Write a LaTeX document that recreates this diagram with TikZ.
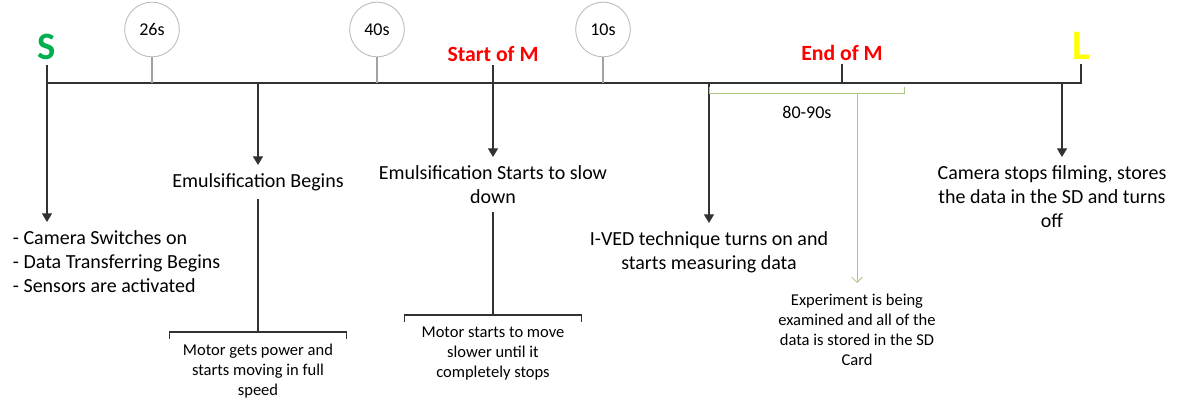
\documentclass[tikz,border=0pt]{standalone}
\usepackage{fontspec}
\setmainfont{Carlito}
\usetikzlibrary{arrows.meta, positioning, calc}
\definecolor{startgreen}{RGB}{0,176,80}
\definecolor{markred}{RGB}{255,0,0}
\definecolor{endyellow}{RGB}{255,255,0}
\definecolor{ringgray}{RGB}{190,190,190}
\definecolor{spangreen}{RGB}{169,199,125}
\definecolor{linegray}{RGB}{50,50,50}

\begin{document}
\begin{tikzpicture}[x=0.75pt, y=-0.75pt,
  axis/.style={linegray, line width=0.9pt},
  down/.style={axis, -{Triangle[length=6.5pt,width=7.5pt]}},
  ring/.style={circle, draw=ringgray, line width=0.7pt, minimum size=41pt, inner sep=0pt, font=\fontsize{13.5}{16}\selectfont},
  stem/.style={ringgray!85!black, line width=0.9pt},
  span/.style={spangreen, line width=0.6pt},
  event/.style={align=center, inner xsep=2pt, inner ysep=6pt, font=\fontsize{15}{18}\selectfont},
  detail/.style={align=center, inner xsep=2pt, inner ysep=9pt, minimum width=132pt, font=\fontsize{12.4}{15}\selectfont},
  milestone/.style={anchor=base, inner sep=2pt, text=markred, font=\bfseries\fontsize{16.3}{18}\selectfont}]
  \useasboundingbox (0,0) rectangle (1186,409);

  % ends of the time line
  \node[anchor=base, inner sep=3pt, text=startgreen, font=\bfseries\fontsize{29}{30}\selectfont] (S) at (47,60) {S};
  \node[anchor=base, inner sep=3pt, text=endyellow, font=\bfseries\fontsize{31.5}{32}\selectfont] (L) at (1081,60) {L};
  \coordinate (t0) at (47,83);
  \coordinate (tL) at (1081,83);
  \coordinate (te) at (258,83);
  \coordinate (ti) at (709,83);
  \coordinate (tend) at (842,83);
  \coordinate (tc) at (1062,83);
  \draw[axis] (t0) -- (tL) -- (L);

  % durations
  \foreach \x/\lab in {152/26s, 377/40s, 603/10s} {
    \node[ring] (c\lab) at (\x,29.5) {\lab};
    \draw[stem] (c\lab) -- (c\lab |- t0);
  }

  % milestones
  \node[milestone] (SM) at (493,62) {Start of M};
  \node[milestone] (EM) at (842,61) {End of M};
  \draw[axis] (EM) -- (tend);

  % events below the line
  \node[event, align=left, anchor=north west] (camon) at (10,222) {- Camera Switches on\\- Data Transferring Begins\\- Sensors are activated};
  \draw[down] (S) -- (S |- camon.north);

  \node[event, anchor=north] (eb) at (258,165) {Emulsification Begins};
  \draw[down] (te) -- (eb);
  \node[detail, anchor=north] (mp) at (258,332) {Motor gets power and\\starts moving in full\\speed};
  \draw[axis] (eb) -- (mp);
  \draw[axis] ([yshift=-5pt]mp.north west) -- (mp.north west) -- (mp.north east) -- ([yshift=-5pt]mp.north east);

  \node[event, anchor=north] (ess) at (493,157) {Emulsification Starts to slow\\down};
  \draw[down] (SM) -- (ess);
  \node[detail, anchor=north] (ms) at (493,315) {Motor starts to move\\slower until it\\completely stops};
  \draw[axis] (ess) -- (ms);
  \draw[axis] ([yshift=-5pt]ms.north west) -- (ms.north west) -- (ms.north east) -- ([yshift=-5pt]ms.north east);

  \node[event, anchor=north] (ived) at (709,223) {I-VED technique turns on and\\starts measuring data};
  \draw[down] (ti) -- (ived);

  % measuring window
  \coordinate (gl) at (709,87);
  \coordinate (gr) at (904,87);
  \coordinate (gm) at (857,93);
  \draw[span] (gl) -- ++(0,6) -| (gr);
  \node[font=\fontsize{13.5}{16}\selectfont] (range) at (807,112) {80-90s};
  \node[detail, minimum width=0pt, inner ysep=8pt, anchor=north] (exp) at (857,283) {Experiment is being\\examined and all of the\\data is stored in the SD\\Card};
  \draw[span, -{Straight Barb[length=4pt,width=8pt]}] (gm) -- (exp);

  \node[event, anchor=north] (cam) at (1052,157) {Camera stops filming, stores\\the data in the SD and turns\\off};
  \draw[down] (tc) -- (tc |- cam.north);
\end{tikzpicture}
\end{document}
